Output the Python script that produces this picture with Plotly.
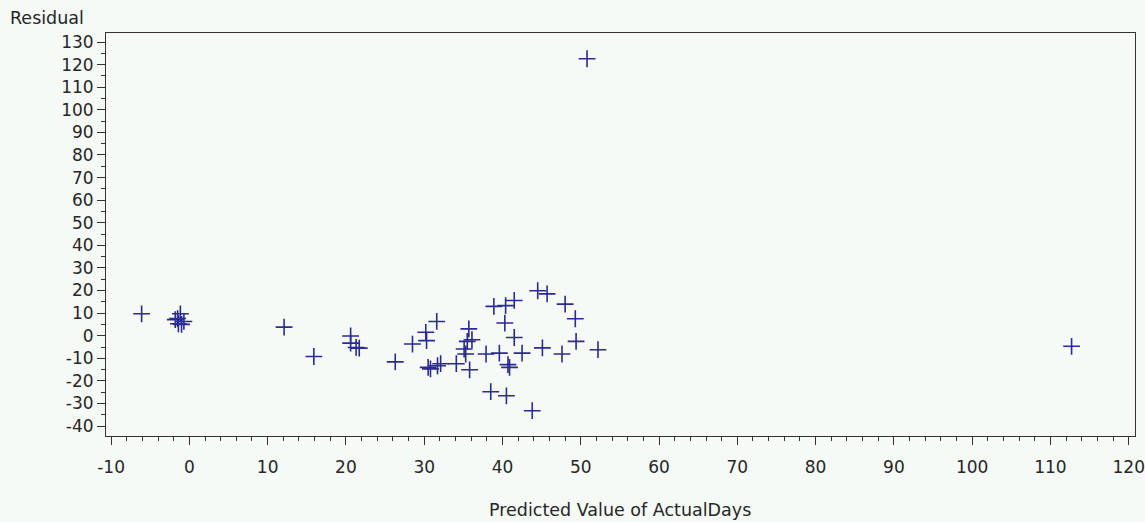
import plotly.graph_objects as go

# Data
predicted = [-6.1, -1.15, -1.8, -1.4, -0.7, -1.5, -1.0,
             12.1, 15.9, 20.6, 20.6, 21.3, 21.7,
             26.3, 28.5, 30.2, 30.3, 31.6, 30.5, 30.8, 31.7, 32.1, 34.1,
             35.7, 35.5, 36.1, 35.1, 35.3, 35.8, 37.9, 39.6, 38.9, 40.4,
             41.5, 40.3, 41.5, 42.5, 40.9, 40.7, 38.5, 40.5, 43.8, 44.5,
             45.7, 45.1, 48.0, 49.3, 49.4, 47.6, 52.2, 50.8, 112.7]
residual = [9.7, 9.7, 7.1, 5.3, 6.3, 7.6, 5.0,
            3.8, -9.2, -0.1, -3.3, -5.2, -5.5,
            -11.6, -3.7, 1.5, -2.2, 6.3, -14.0, -14.7, -13.3, -12.4, -12.4,
            3.0, -2.5, -1.8, -5.9, -8.1, -15.1, -8.1, -7.7, 13.0, 13.3,
            15.6, 5.6, -0.8, -7.7, -14.0, -12.8, -24.8, -26.6, -33.2, 19.9,
            18.5, -5.4, 14.0, 7.5, -2.5, -8.1, -6.2, 122.6, -4.7]

x_ticks = list(range(-10, 121, 10))
y_ticks = list(range(-40, 131, 10))

W, H = 1145, 522
L, R, T, B = 106, 10, 33, 86
bg = "#F6FAF6"
font = dict(family="DejaVu Sans, sans-serif", size=17.5, color="#262626")
tick_font = dict(family="DejaVu Sans, sans-serif", size=17, color="#262626")

fig = go.Figure()
fig.add_trace(go.Scatter(
    x=predicted, y=residual, mode="markers",
    marker=dict(symbol="cross-thin", size=12,
                line=dict(width=1.6, color="#2A2A96"), color="#2A2A96"),
    showlegend=False, hoverinfo="x+y"))

axis_common = dict(
    showgrid=False, zeroline=False, showline=True, mirror=True,
    linecolor="#333333", linewidth=1, ticks="outside", ticklen=8,
    tickwidth=1, tickcolor="#333333", tickfont=tick_font, automargin=False)

fig.update_xaxes(range=[-10.65, 120.8], tickmode="array", tickvals=x_ticks,
                 ticktext=[str(v) for v in x_ticks], ticklabelstandoff=8,
                 minor=dict(dtick=2, tick0=-10, ticks="outside", ticklen=4,
                            tickcolor="#333333"),
                 **axis_common)
fig.update_yaxes(range=[-44.4, 134], tickmode="array", tickvals=y_ticks,
                 ticktext=[str(v) for v in y_ticks],
                 minor=dict(dtick=5, tick0=-40, ticks="outside", ticklen=4,
                            tickcolor="#333333"),
                 **axis_common)

fig.update_layout(
    width=W, height=H,
    margin=dict(l=L, r=R, t=T, b=B),
    paper_bgcolor=bg, plot_bgcolor=bg,
    font=font,
    annotations=[
        dict(text="Residual", xref="paper", yref="paper",
             x=(8 - L) / (W - L - R), y=1 + (T - 18) / (H - T - B),
             xanchor="left", yanchor="middle", showarrow=False, font=font),
        dict(text="Predicted Value of ActualDays", xref="paper", yref="paper",
             x=(620 - L) / (W - L - R), y=-(510 - (H - B)) / (H - T - B),
             xanchor="center", yanchor="middle", showarrow=False, font=font),
    ],
)

fig.write_html("out.html")
